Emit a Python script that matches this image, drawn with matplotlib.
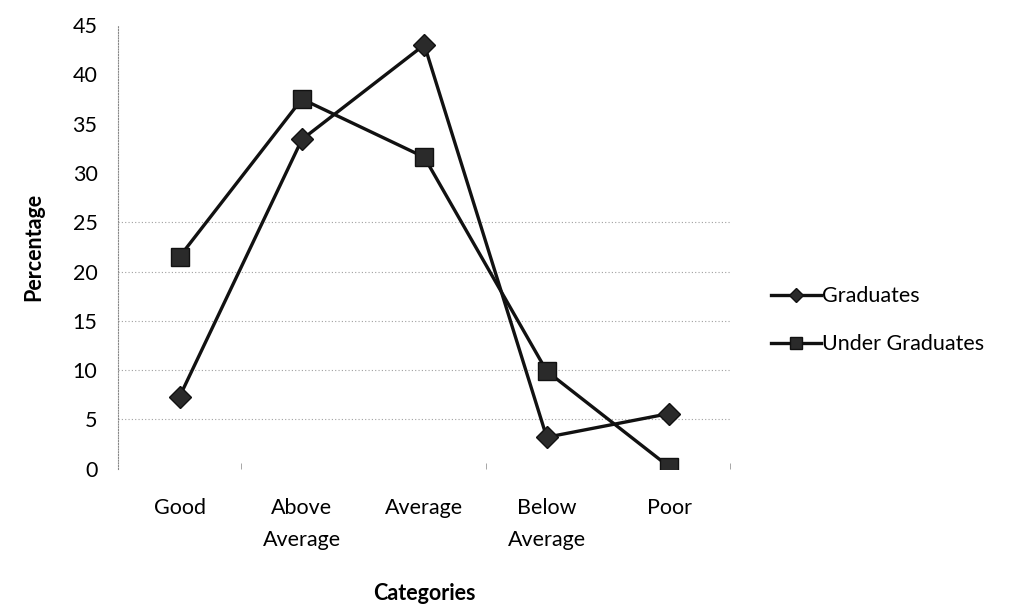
import matplotlib.pyplot as plt
from matplotlib.ticker import FixedLocator

plt.rcParams["font.family"] = ["Lato", "DejaVu Sans"]

# survey results, percent of respondents per category
categories = ["Good", "Above\nAverage", "Average", "Below\nAverage", "Poor"]
graduates = [7.3, 33.4, 43.0, 3.2, 5.6]
under_graduates = [21.5, 37.5, 31.6, 9.9, 0.2]
y_ticks = [0, 5, 10, 15, 20, 25, 30, 35, 40, 45]
grid_levels = [5, 10, 15, 20, 25]

fig = plt.figure(figsize=(10.2, 6.12), dpi=100)
ax = fig.add_axes([0.116, 0.234, 0.600, 0.725])

x = range(len(categories))

# faint dotted horizontal gridlines
for y in grid_levels:
    ax.axhline(y, color="#a0a0a0", lw=0.8, ls=(0, (1, 2)), zorder=0)

ax.plot(x, graduates, color="#111111", lw=2.4, marker="D", ms=11,
        mfc="#2a2a2a", mec="#111111", label="Graduates", zorder=3)
ax.plot(x, under_graduates, color="#111111", lw=2.4, marker="s", ms=13,
        mfc="#2a2a2a", mec="#111111", label="Under Graduates", zorder=3)

ax.set_xlim(-0.5, len(categories) - 0.5)
ax.set_ylim(0, 45)
ax.set_yticks(y_ticks)
ax.set_xticks(list(x))
ax.set_xticklabels(categories)
ax.xaxis.set_minor_locator(FixedLocator([0.5, 2.5, 4.5]))

ax.tick_params(axis="y", length=0, pad=15, labelsize=15.5)
ax.tick_params(axis="x", which="major", length=0, pad=21, labelsize=15.5)
ax.tick_params(axis="x", which="minor", length=4, width=0.6, color="#999999",
               direction="in")
for lbl in ax.get_xticklabels():
    lbl.set_linespacing(1.75)

for side in ["top", "right", "bottom"]:
    ax.spines[side].set_visible(False)
ax.spines["left"].set_color("#888888")
ax.spines["left"].set_linewidth(0.8)
ax.spines["left"].set_linestyle((0, (1, 1.5)))

ax.set_ylabel("Percentage", fontsize=15.5, fontweight="bold", labelpad=20)
ax.set_xlabel("Categories", fontsize=15.5, fontweight="bold", labelpad=24)

ax.legend(loc="center left", bbox_to_anchor=(1.035, 0.335), frameon=False,
          fontsize=15.5, markerscale=0.65, handlelength=2.3, handletextpad=0.05,
          labelspacing=1.3)

fig.savefig("out.png", dpi=100)
